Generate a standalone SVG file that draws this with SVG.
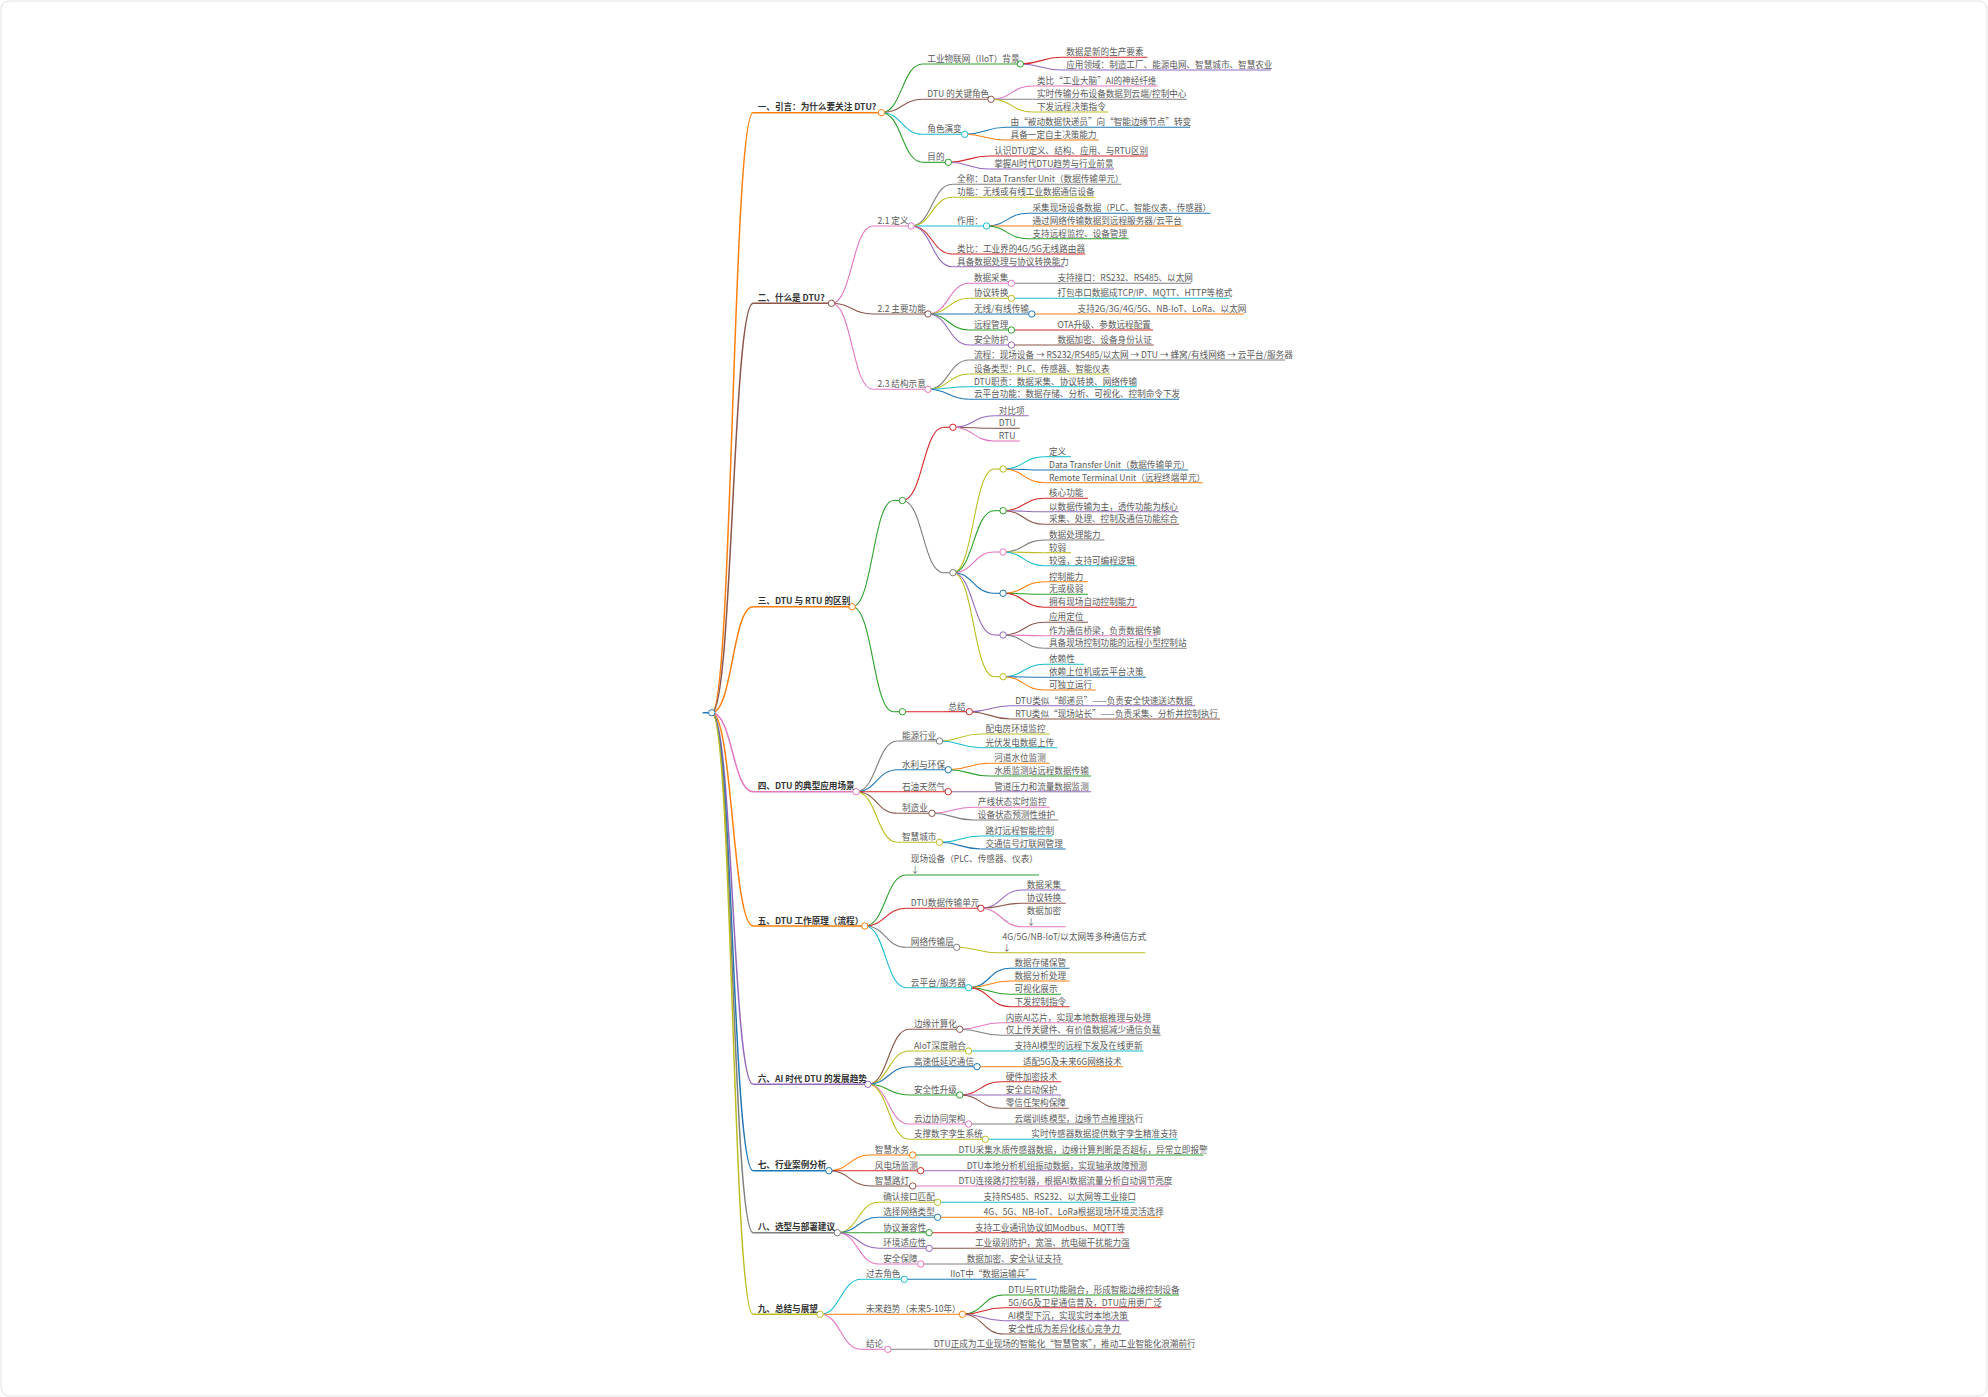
<svg xmlns="http://www.w3.org/2000/svg" width="1988" height="1397" viewBox="0 0 1988 1397">
<style>
.t{font-family:"Noto Sans CJK SC","Noto Sans",sans-serif;font-size:8.6px;fill:#5a5a5a}
.b{font-weight:bold;fill:#333}
path{fill:none;stroke-width:1.1}
.k1{stroke-width:1.5}
circle{fill:#fff;stroke-width:1}
.blue{stroke:#1f77b4}.orange{stroke:#ff7f0e}.green{stroke:#2ca02c}.red{stroke:#d62728}.purple{stroke:#9467bd}
.brown{stroke:#8c564b}.pink{stroke:#e377c2}.gray{stroke:#7f7f7f}.olive{stroke:#bcbd22}.cyan{stroke:#17becf}
</style>
<rect x="1" y="1" width="1986" height="1395" rx="8" fill="#fff" stroke="#e3e3e3"/>
<g id="connectors">
<path class="k1 orange" d="M711.8 712.7C732.5 712.7 732.5 112.7 753.1 112.7"/>
<path class="k1 brown" d="M711.8 712.7C732.5 712.7 732.5 303.3 753.1 303.3"/>
<path class="k1 orange" d="M711.8 712.7C732.5 712.7 732.5 606.7 753.1 606.7"/>
<path class="k1 pink" d="M711.8 712.7C732.5 712.7 732.5 791.7 753.1 791.7"/>
<path class="k1 orange" d="M711.8 712.7C732.5 712.7 732.5 926 753.1 926"/>
<path class="k1 purple" d="M711.8 712.7C732.5 712.7 732.5 1084.3 753.1 1084.3"/>
<path class="k1 blue" d="M711.8 712.7C732.5 712.7 732.5 1170.7 753.1 1170.7"/>
<path class="k1 gray" d="M711.8 712.7C732.5 712.7 732.5 1232.7 753.1 1232.7"/>
<path class="k1 olive" d="M711.8 712.7C732.5 712.7 732.5 1314.3 753.1 1314.3"/>
<path class="green" d="M881.4 112.7C902 112.7 902 64 922.7 64"/>
<path class="brown" d="M881.4 112.7C902 112.7 902 99.3 922.7 99.3"/>
<path class="cyan" d="M881.4 112.7C902 112.7 902 134.3 922.7 134.3"/>
<path class="green" d="M881.4 112.7C902 112.7 902 162.3 922.7 162.3"/>
<path class="red" d="M1020.3 64C1041 64 1041 57.3 1061.6 57.3"/>
<path class="purple" d="M1020.3 64C1041 64 1041 70 1061.6 70"/>
<path class="pink" d="M991.1 99.3C1011.8 99.3 1011.8 86 1032.5 86"/>
<path class="gray" d="M991.1 99.3H1032.5"/>
<path class="olive" d="M991.1 99.3C1011.8 99.3 1011.8 112 1032.5 112"/>
<path class="blue" d="M964.7 134.3C985.4 134.3 985.4 127.3 1006 127.3"/>
<path class="orange" d="M964.7 134.3C985.4 134.3 985.4 140 1006 140"/>
<path class="red" d="M948.3 162.3C969 162.3 969 156 989.6 156"/>
<path class="purple" d="M948.3 162.3C969 162.3 969 169 989.6 169"/>
<path class="pink" d="M831.5 303.3C852.2 303.3 852.2 226 872.9 226"/>
<path class="brown" d="M831.5 303.3C852.2 303.3 852.2 314 872.9 314"/>
<path class="pink" d="M831.5 303.3C852.2 303.3 852.2 389.3 872.9 389.3"/>
<path class="gray" d="M911.2 226C931.9 226 931.9 184.3 952.5 184.3"/>
<path class="olive" d="M911.2 226C931.9 226 931.9 197.3 952.5 197.3"/>
<path class="cyan" d="M911.2 226H952.5"/>
<path class="red" d="M911.2 226C931.9 226 931.9 254 952.5 254"/>
<path class="purple" d="M911.2 226C931.9 226 931.9 266.7 952.5 266.7"/>
<path class="blue" d="M986.5 226C1007.2 226 1007.2 213.3 1027.9 213.3"/>
<path class="orange" d="M986.5 226H1027.9"/>
<path class="green" d="M986.5 226C1007.2 226 1007.2 238.7 1027.9 238.7"/>
<path class="pink" d="M928 314C948.6 314 948.6 283.3 969.3 283.3"/>
<path class="olive" d="M928 314C948.6 314 948.6 298.3 969.3 298.3"/>
<path class="blue" d="M928 314H969.3"/>
<path class="green" d="M928 314C948.6 314 948.6 330 969.3 330"/>
<path class="purple" d="M928 314C948.6 314 948.6 345 969.3 345"/>
<path class="gray" d="M1011.4 283.3H1052.8"/>
<path class="cyan" d="M1011.4 298.3H1052.8"/>
<path class="orange" d="M1031.8 314H1073.1"/>
<path class="red" d="M1011.4 330H1052.8"/>
<path class="brown" d="M1011.4 345H1052.8"/>
<path class="gray" d="M928 389.3C948.6 389.3 948.6 360 969.3 360"/>
<path class="olive" d="M928 389.3C948.6 389.3 948.6 374 969.3 374"/>
<path class="cyan" d="M928 389.3C948.6 389.3 948.6 386.7 969.3 386.7"/>
<path class="blue" d="M928 389.3C948.6 389.3 948.6 399.3 969.3 399.3"/>
<path class="green" d="M852.2 606.7C872.9 606.7 872.9 500.5 893.5 500.5"/>
<path class="green" d="M852.2 606.7C872.9 606.7 872.9 711.7 893.5 711.7"/>
<path class="red" d="M902.4 500.5C923 500.5 923 427.3 943.7 427.3"/>
<path class="gray" d="M902.4 500.5C923 500.5 923 572.7 943.7 572.7"/>
<path class="purple" d="M952.9 427.3C973.6 427.3 973.6 415.7 994.2 415.7"/>
<path class="brown" d="M952.9 427.3C973.6 427.3 973.6 428.3 994.2 428.3"/>
<path class="pink" d="M952.9 427.3C973.6 427.3 973.6 441 994.2 441"/>
<path class="olive" d="M952.9 572.7C973.6 572.7 973.6 469 994.2 469"/>
<path class="green" d="M952.9 572.7C973.6 572.7 973.6 510.7 994.2 510.7"/>
<path class="pink" d="M952.9 572.7C973.6 572.7 973.6 552 994.2 552"/>
<path class="blue" d="M952.9 572.7C973.6 572.7 973.6 593.3 994.2 593.3"/>
<path class="purple" d="M952.9 572.7C973.6 572.7 973.6 635 994.2 635"/>
<path class="olive" d="M952.9 572.7C973.6 572.7 973.6 676.7 994.2 676.7"/>
<path class="cyan" d="M1003.1 469C1023.7 469 1023.7 456.7 1044.4 456.7"/>
<path class="blue" d="M1003.1 469C1023.7 469 1023.7 470 1044.4 470"/>
<path class="orange" d="M1003.1 469C1023.7 469 1023.7 482.7 1044.4 482.7"/>
<path class="red" d="M1003.1 510.7C1023.7 510.7 1023.7 498.3 1044.4 498.3"/>
<path class="purple" d="M1003.1 510.7C1023.7 510.7 1023.7 511.7 1044.4 511.7"/>
<path class="brown" d="M1003.1 510.7C1023.7 510.7 1023.7 524.3 1044.4 524.3"/>
<path class="gray" d="M1003.1 552C1023.7 552 1023.7 540 1044.4 540"/>
<path class="olive" d="M1003.1 552C1023.7 552 1023.7 552.7 1044.4 552.7"/>
<path class="cyan" d="M1003.1 552C1023.7 552 1023.7 565.7 1044.4 565.7"/>
<path class="orange" d="M1003.1 593.3C1023.7 593.3 1023.7 581.7 1044.4 581.7"/>
<path class="green" d="M1003.1 593.3C1023.7 593.3 1023.7 594.3 1044.4 594.3"/>
<path class="red" d="M1003.1 593.3C1023.7 593.3 1023.7 607.3 1044.4 607.3"/>
<path class="brown" d="M1003.1 635C1023.7 635 1023.7 622.3 1044.4 622.3"/>
<path class="pink" d="M1003.1 635C1023.7 635 1023.7 635.7 1044.4 635.7"/>
<path class="gray" d="M1003.1 635C1023.7 635 1023.7 648.3 1044.4 648.3"/>
<path class="cyan" d="M1003.1 676.7C1023.7 676.7 1023.7 664.3 1044.4 664.3"/>
<path class="blue" d="M1003.1 676.7C1023.7 676.7 1023.7 677.3 1044.4 677.3"/>
<path class="orange" d="M1003.1 676.7C1023.7 676.7 1023.7 690 1044.4 690"/>
<path class="red" d="M902.4 711.7H943.7"/>
<path class="purple" d="M969.3 711.7C990 711.7 990 705.7 1010.6 705.7"/>
<path class="brown" d="M969.3 711.7C990 711.7 990 719 1010.6 719"/>
<path class="gray" d="M856.1 791.7C876.8 791.7 876.8 741 897.4 741"/>
<path class="blue" d="M856.1 791.7C876.8 791.7 876.8 769.7 897.4 769.7"/>
<path class="red" d="M856.1 791.7H897.4"/>
<path class="brown" d="M856.1 791.7C876.8 791.7 876.8 813.3 897.4 813.3"/>
<path class="olive" d="M856.1 791.7C876.8 791.7 876.8 842.3 897.4 842.3"/>
<path class="olive" d="M939.5 741C960.1 741 960.1 734 980.8 734"/>
<path class="cyan" d="M939.5 741C960.1 741 960.1 747.7 980.8 747.7"/>
<path class="orange" d="M948.3 769.7C969 769.7 969 763.3 989.6 763.3"/>
<path class="green" d="M948.3 769.7C969 769.7 969 776 989.6 776"/>
<path class="purple" d="M948.3 791.7H989.6"/>
<path class="pink" d="M931.9 813.3C952.5 813.3 952.5 807.3 973.2 807.3"/>
<path class="gray" d="M931.9 813.3C952.5 813.3 952.5 820 973.2 820"/>
<path class="cyan" d="M939.5 842.3C960.1 842.3 960.1 836 980.8 836"/>
<path class="blue" d="M939.5 842.3C960.1 842.3 960.1 849 980.8 849"/>
<path class="green" d="M864.8 926C885.5 926 885.5 875 906.2 875"/>
<path class="red" d="M864.8 926C885.5 926 885.5 908.3 906.2 908.3"/>
<path class="gray" d="M864.8 926C885.5 926 885.5 947.3 906.2 947.3"/>
<path class="cyan" d="M864.8 926C885.5 926 885.5 987.7 906.2 987.7"/>
<path class="purple" d="M980.8 908.3C1001.4 908.3 1001.4 890 1022.1 890"/>
<path class="brown" d="M980.8 908.3C1001.4 908.3 1001.4 903.3 1022.1 903.3"/>
<path class="pink" d="M980.8 908.3C1001.4 908.3 1001.4 926.7 1022.1 926.7"/>
<path class="olive" d="M956.7 947.3C977.3 947.3 977.3 952.7 998 952.7"/>
<path class="blue" d="M968.6 987.7C989.3 987.7 989.3 968.3 1010 968.3"/>
<path class="orange" d="M968.6 987.7C989.3 987.7 989.3 981 1010 981"/>
<path class="green" d="M968.6 987.7C989.3 987.7 989.3 994.3 1010 994.3"/>
<path class="red" d="M968.6 987.7C989.3 987.7 989.3 1006.7 1010 1006.7"/>
<path class="brown" d="M867.9 1084.3C888.6 1084.3 888.6 1029.3 909.3 1029.3"/>
<path class="olive" d="M867.9 1084.3C888.6 1084.3 888.6 1051 909.3 1051"/>
<path class="blue" d="M867.9 1084.3C888.6 1084.3 888.6 1066.7 909.3 1066.7"/>
<path class="green" d="M867.9 1084.3C888.6 1084.3 888.6 1095 909.3 1095"/>
<path class="pink" d="M867.9 1084.3C888.6 1084.3 888.6 1124 909.3 1124"/>
<path class="olive" d="M867.9 1084.3C888.6 1084.3 888.6 1139.3 909.3 1139.3"/>
<path class="pink" d="M959.8 1029.3C980.4 1029.3 980.4 1022.7 1001.1 1022.7"/>
<path class="gray" d="M959.8 1029.3C980.4 1029.3 980.4 1035.3 1001.1 1035.3"/>
<path class="cyan" d="M968.6 1051H1010"/>
<path class="orange" d="M977 1066.7H1018.3"/>
<path class="red" d="M959.8 1095C980.4 1095 980.4 1081.7 1001.1 1081.7"/>
<path class="purple" d="M959.8 1095H1001.1"/>
<path class="brown" d="M959.8 1095C980.4 1095 980.4 1108.3 1001.1 1108.3"/>
<path class="gray" d="M968.6 1124H1010"/>
<path class="cyan" d="M985.4 1139.3H1026.7"/>
<path class="orange" d="M828.9 1170.7C849.6 1170.7 849.6 1155 870.2 1155"/>
<path class="red" d="M828.9 1170.7H870.2"/>
<path class="brown" d="M828.9 1170.7C849.6 1170.7 849.6 1186 870.2 1186"/>
<path class="green" d="M912.7 1155H954"/>
<path class="purple" d="M920.7 1170.7H962.1"/>
<path class="pink" d="M912.7 1186H954"/>
<path class="olive" d="M837.3 1232.7C858 1232.7 858 1202.3 878.6 1202.3"/>
<path class="blue" d="M837.3 1232.7C858 1232.7 858 1217.3 878.6 1217.3"/>
<path class="green" d="M837.3 1232.7H878.6"/>
<path class="purple" d="M837.3 1232.7C858 1232.7 858 1248.3 878.6 1248.3"/>
<path class="pink" d="M837.3 1232.7C858 1232.7 858 1264 878.6 1264"/>
<path class="cyan" d="M937.6 1202.3H979"/>
<path class="orange" d="M937.6 1217.3H979"/>
<path class="red" d="M929.1 1232.7H970.5"/>
<path class="brown" d="M929.1 1248.3H970.5"/>
<path class="gray" d="M920.7 1264H962.1"/>
<path class="cyan" d="M820.1 1314.3C840.7 1314.3 840.7 1279.3 861.4 1279.3"/>
<path class="orange" d="M820.1 1314.3H861.4"/>
<path class="pink" d="M820.1 1314.3C840.7 1314.3 840.7 1349.3 861.4 1349.3"/>
<path class="blue" d="M904.3 1279.3H945.7"/>
<path class="green" d="M962.4 1314.3C983.1 1314.3 983.1 1295 1003.7 1295"/>
<path class="red" d="M962.4 1314.3C983.1 1314.3 983.1 1307.7 1003.7 1307.7"/>
<path class="purple" d="M962.4 1314.3C983.1 1314.3 983.1 1320.7 1003.7 1320.7"/>
<path class="brown" d="M962.4 1314.3C983.1 1314.3 983.1 1334 1003.7 1334"/>
<path class="gray" d="M887.8 1349.3H929.1"/>
</g>

<g id="root"><path class="k1 blue" d="M702.6 712.7H711.8"/><circle class="blue" cx="711.8" cy="712.7" r="3.2"/></g>

<g id="s1"><path class="k1 orange" d="M753.1 112.7H881.4"/><circle class="orange" cx="881.4" cy="112.7" r="3.2"/><text class="t b" x="757.7" y="110.3">一、引言：为什么要关注 DTU?</text></g>
<g id="s1a"><path class="green" d="M922.7 64H1020.3"/><circle class="green" cx="1020.3" cy="64" r="3.2"/><text class="t" x="927.3" y="61.8">工业物联网（IIoT）背景</text></g>
<g id="s1a1"><path class="red" d="M1061.6 57.3H1147.3"/><text class="t" x="1066.2" y="55.3">数据是新的生产要素</text></g>
<g id="s1a2"><path class="purple" d="M1061.6 70H1270.9"/><text class="t" x="1066.2" y="68">应用领域：制造工厂、能源电网、智慧城市、智慧农业</text></g>
<g id="s1b"><path class="brown" d="M922.7 99.3H991.1"/><circle class="brown" cx="991.1" cy="99.3" r="3.2"/><text class="t" x="927.3" y="97.1">DTU 的关键角色</text></g>
<g id="s1b1"><path class="pink" d="M1032.5 86H1157.6"/><text class="t" x="1037" y="84">类比“工业大脑”AI的神经纤维</text></g>
<g id="s1b2"><path class="gray" d="M1032.5 99.3H1186.7"/><text class="t" x="1037" y="97.3">实时传输分布设备数据到云端/控制中心</text></g>
<g id="s1b3"><path class="olive" d="M1032.5 112H1108.2"/><text class="t" x="1037" y="110">下发远程决策指令</text></g>
<g id="s1c"><path class="cyan" d="M922.7 134.3H964.7"/><circle class="cyan" cx="964.7" cy="134.3" r="3.2"/><text class="t" x="927.3" y="132.1">角色演变</text></g>
<g id="s1c1"><path class="blue" d="M1006 127.3H1190.2"/><text class="t" x="1010.6" y="125.3">由“被动数据快递员”向“智能边缘节点”转变</text></g>
<g id="s1c2"><path class="orange" d="M1006 140H1098.7"/><text class="t" x="1010.6" y="138">具备一定自主决策能力</text></g>
<g id="s1d"><path class="green" d="M922.7 162.3H948.3"/><circle class="green" cx="948.3" cy="162.3" r="3.2"/><text class="t" x="927.3" y="160.1">目的</text></g>
<g id="s1d1"><path class="red" d="M989.6 156H1148.1"/><text class="t" x="994.2" y="154">认识DTU定义、结构、应用、与RTU区别</text></g>
<g id="s1d2"><path class="purple" d="M989.6 169H1114"/><text class="t" x="994.2" y="167">掌握AI时代DTU趋势与行业前景</text></g>

<g id="s2"><path class="k1 brown" d="M753.1 303.3H831.5"/><circle class="brown" cx="831.5" cy="303.3" r="3.2"/><text class="t b" x="757.7" y="300.9">二、什么是 DTU?</text></g>
<g id="s2a"><path class="pink" d="M872.9 226H911.2"/><circle class="pink" cx="911.2" cy="226" r="3.2"/><text class="t" x="877.5" y="223.8">2.1 定义</text></g>
<g id="s2a1"><path class="gray" d="M952.5 184.3H1121.3"/><text class="t" x="957.1" y="182.3">全称：Data Transfer Unit（数据传输单元）</text></g>
<g id="s2a2"><path class="olive" d="M952.5 197.3H1094.9"/><text class="t" x="957.1" y="195.3">功能：无线或有线工业数据通信设备</text></g>
<g id="s2a3"><path class="cyan" d="M952.5 226H986.5"/><circle class="cyan" cx="986.5" cy="226" r="3.2"/><text class="t" x="957.1" y="223.8">作用：</text></g>
<g id="s2a3a"><path class="blue" d="M1027.9 213.3H1210.4"/><text class="t" x="1032.5" y="211.3">采集现场设备数据（PLC、智能仪表、传感器）</text></g>
<g id="s2a3b"><path class="orange" d="M1027.9 226H1182.5"/><text class="t" x="1032.5" y="224">通过网络传输数据到远程服务器/云平台</text></g>
<g id="s2a3c"><path class="green" d="M1027.9 238.7H1128.9"/><text class="t" x="1032.5" y="236.7">支持远程监控、设备管理</text></g>
<g id="s2a4"><path class="red" d="M952.5 254H1085.3"/><text class="t" x="957.1" y="252">类比：工业界的4G/5G无线路由器</text></g>
<g id="s2a5"><path class="purple" d="M952.5 266.7H1064.2"/><text class="t" x="957.1" y="264.7">具备数据处理与协议转换能力</text></g>
<g id="s2b"><path class="brown" d="M872.9 314H928"/><circle class="brown" cx="928" cy="314" r="3.2"/><text class="t" x="877.5" y="311.8">2.2 主要功能</text></g>
<g id="s2b1"><path class="pink" d="M969.3 283.3H1011.4"/><circle class="pink" cx="1011.4" cy="283.3" r="3.2"/><text class="t" x="973.9" y="281.1">数据采集</text></g>
<g id="s2b1a"><path class="gray" d="M1052.8 283.3H1191.3"/><text class="t" x="1057.4" y="281.3">支持接口：RS232、RS485、以太网</text></g>
<g id="s2b2"><path class="olive" d="M969.3 298.3H1011.4"/><circle class="olive" cx="1011.4" cy="298.3" r="3.2"/><text class="t" x="973.9" y="296.1">协议转换</text></g>
<g id="s2b2a"><path class="cyan" d="M1052.8 298.3H1229.6"/><text class="t" x="1057.4" y="296.3">打包串口数据成TCP/IP、MQTT、HTTP等格式</text></g>
<g id="s2b3"><path class="blue" d="M969.3 314H1031.8"/><circle class="blue" cx="1031.8" cy="314" r="3.2"/><text class="t" x="973.9" y="311.8">无线/有线传输</text></g>
<g id="s2b3a"><path class="orange" d="M1073.1 314H1243.7"/><text class="t" x="1077.6" y="312">支持2G/3G/4G/5G、NB-IoT、LoRa、以太网</text></g>
<g id="s2b4"><path class="green" d="M969.3 330H1011.4"/><circle class="green" cx="1011.4" cy="330" r="3.2"/><text class="t" x="973.9" y="327.8">远程管理</text></g>
<g id="s2b4a"><path class="red" d="M1052.8 330H1153"/><text class="t" x="1057.4" y="328">OTA升级、参数远程配置</text></g>
<g id="s2b5"><path class="purple" d="M969.3 345H1011.4"/><circle class="purple" cx="1011.4" cy="345" r="3.2"/><text class="t" x="973.9" y="342.8">安全防护</text></g>
<g id="s2b5a"><path class="brown" d="M1052.8 345H1153.8"/><text class="t" x="1057.4" y="343">数据加密、设备身份认证</text></g>
<g id="s2c"><path class="pink" d="M872.9 389.3H928"/><circle class="pink" cx="928" cy="389.3" r="3.2"/><text class="t" x="877.5" y="387.1">2.3 结构示意</text></g>
<g id="s2c1"><path class="gray" d="M969.3 360H1285"/><text class="t" x="973.9" y="358">流程：现场设备 → RS232/RS485/以太网 → DTU → 蜂窝/有线网络 → 云平台/服务器</text></g>
<g id="s2c2"><path class="olive" d="M969.3 374H1109.8"/><text class="t" x="973.9" y="372">设备类型：PLC、传感器、智能仪表</text></g>
<g id="s2c3"><path class="cyan" d="M969.3 386.7H1136.6"/><text class="t" x="973.9" y="384.7">DTU职责：数据采集、协议转换、网络传输</text></g>
<g id="s2c4"><path class="blue" d="M969.3 399.3H1179"/><text class="t" x="973.9" y="397.3">云平台功能：数据存储、分析、可视化、控制命令下发</text></g>

<g id="s3"><path class="k1 orange" d="M753.1 606.7H852.2"/><circle class="orange" cx="852.2" cy="606.7" r="3.2"/><text class="t b" x="757.7" y="604.3">三、DTU 与 RTU 的区别</text></g>
<g id="s3t"><path class="green" d="M893.5 500.5H902.4"/><circle class="green" cx="902.4" cy="500.5" r="3.2"/></g>
<g id="s3h"><path class="red" d="M943.7 427.3H952.9"/><circle class="red" cx="952.9" cy="427.3" r="3.2"/></g>
<g id="s3h1"><path class="purple" d="M994.2 415.7H1028.7"/><text class="t" x="998.8" y="413.7">对比项</text></g>
<g id="s3h2"><path class="brown" d="M994.2 428.3H1019.8"/><text class="t" x="998.8" y="426.3">DTU</text></g>
<g id="s3h3"><path class="pink" d="M994.2 441H1019.8"/><text class="t" x="998.8" y="439">RTU</text></g>
<g id="s3r"><path class="gray" d="M943.7 572.7H952.9"/><circle class="gray" cx="952.9" cy="572.7" r="3.2"/></g>
<g id="s3r1"><path class="olive" d="M994.2 469H1003.1"/><circle class="olive" cx="1003.1" cy="469" r="3.2"/></g>
<g id="s3r1a"><path class="cyan" d="M1044.4 456.7H1070.8"/><text class="t" x="1049" y="454.7">定义</text></g>
<g id="s3r1b"><path class="blue" d="M1044.4 470H1188.2"/><text class="t" x="1049" y="468">Data Transfer Unit（数据传输单元）</text></g>
<g id="s3r1c"><path class="orange" d="M1044.4 482.7H1202.8"/><text class="t" x="1049" y="480.7">Remote Terminal Unit（远程终端单元）</text></g>
<g id="s3r2"><path class="green" d="M994.2 510.7H1003.1"/><circle class="green" cx="1003.1" cy="510.7" r="3.2"/></g>
<g id="s3r2a"><path class="red" d="M1044.4 498.3H1088"/><text class="t" x="1049" y="496.3">核心功能</text></g>
<g id="s3r2b"><path class="purple" d="M1044.4 511.7H1179"/><text class="t" x="1049" y="509.7">以数据传输为主，透传功能为核心</text></g>
<g id="s3r2c"><path class="brown" d="M1044.4 524.3H1179"/><text class="t" x="1049" y="522.3">采集、处理、控制及通信功能综合</text></g>
<g id="s3r3"><path class="pink" d="M994.2 552H1003.1"/><circle class="pink" cx="1003.1" cy="552" r="3.2"/></g>
<g id="s3r3a"><path class="gray" d="M1044.4 540H1104.4"/><text class="t" x="1049" y="538">数据处理能力</text></g>
<g id="s3r3b"><path class="olive" d="M1044.4 552.7H1071.1"/><text class="t" x="1049" y="550.7">较弱</text></g>
<g id="s3r3c"><path class="cyan" d="M1044.4 565.7H1136.9"/><text class="t" x="1049" y="563.7">较强，支持可编程逻辑</text></g>
<g id="s3r4"><path class="blue" d="M994.2 593.3H1003.1"/><circle class="blue" cx="1003.1" cy="593.3" r="3.2"/></g>
<g id="s3r4a"><path class="orange" d="M1044.4 581.7H1088"/><text class="t" x="1049" y="579.7">控制能力</text></g>
<g id="s3r4b"><path class="green" d="M1044.4 594.3H1088"/><text class="t" x="1049" y="592.3">无或极弱</text></g>
<g id="s3r4c"><path class="red" d="M1044.4 607.3H1136.9"/><text class="t" x="1049" y="605.3">拥有现场自动控制能力</text></g>
<g id="s3r5"><path class="purple" d="M994.2 635H1003.1"/><circle class="purple" cx="1003.1" cy="635" r="3.2"/></g>
<g id="s3r5a"><path class="brown" d="M1044.4 622.3H1088"/><text class="t" x="1049" y="620.3">应用定位</text></g>
<g id="s3r5b"><path class="pink" d="M1044.4 635.7H1156.9"/><text class="t" x="1049" y="633.7">作为通信桥梁，负责数据传输</text></g>
<g id="s3r5c"><path class="gray" d="M1044.4 648.3H1186.7"/><text class="t" x="1049" y="646.3">具备现场控制功能的远程小型控制站</text></g>
<g id="s3r6"><path class="olive" d="M994.2 676.7H1003.1"/><circle class="olive" cx="1003.1" cy="676.7" r="3.2"/></g>
<g id="s3r6a"><path class="cyan" d="M1044.4 664.3H1084.1"/><text class="t" x="1049" y="662.3">依赖性</text></g>
<g id="s3r6b"><path class="blue" d="M1044.4 677.3H1146.1"/><text class="t" x="1049" y="675.3">依赖上位机或云平台决策</text></g>
<g id="s3r6c"><path class="orange" d="M1044.4 690H1095.6"/><text class="t" x="1049" y="688">可独立运行</text></g>
<g id="s3s"><path class="green" d="M893.5 711.7H902.4"/><circle class="green" cx="902.4" cy="711.7" r="3.2"/></g>
<g id="s3s1"><path class="red" d="M943.7 711.7H969.3"/><circle class="red" cx="969.3" cy="711.7" r="3.2"/><text class="t" x="948.3" y="709.5">总结</text></g>
<g id="s3s1a"><path class="purple" d="M1010.6 705.7H1195.1"/><text class="t" x="1015.2" y="703.7">DTU类似“邮递员”——负责安全快速送达数据</text></g>
<g id="s3s1b"><path class="brown" d="M1010.6 719H1220"/><text class="t" x="1015.2" y="717">RTU类似“现场站长”——负责采集、分析并控制执行</text></g>

<g id="s4"><path class="k1 pink" d="M753.1 791.7H856.1"/><circle class="pink" cx="856.1" cy="791.7" r="3.2"/><text class="t b" x="757.7" y="789.3">四、DTU 的典型应用场景</text></g>
<g id="s4a"><path class="gray" d="M897.4 741H939.5"/><circle class="gray" cx="939.5" cy="741" r="3.2"/><text class="t" x="902" y="738.8">能源行业</text></g>
<g id="s4a1"><path class="olive" d="M980.8 734H1049.7"/><text class="t" x="985.4" y="732">配电房环境监控</text></g>
<g id="s4a2"><path class="cyan" d="M980.8 747.7H1057.4"/><text class="t" x="985.4" y="745.7">光伏发电数据上传</text></g>
<g id="s4b"><path class="blue" d="M897.4 769.7H948.3"/><circle class="blue" cx="948.3" cy="769.7" r="3.2"/><text class="t" x="902" y="767.5">水利与环保</text></g>
<g id="s4b1"><path class="orange" d="M989.6 763.3H1049.7"/><text class="t" x="994.2" y="761.3">河道水位监测</text></g>
<g id="s4b2"><path class="green" d="M989.6 776H1091"/><text class="t" x="994.2" y="774">水质监测站远程数据传输</text></g>
<g id="s4c"><path class="red" d="M897.4 791.7H948.3"/><circle class="red" cx="948.3" cy="791.7" r="3.2"/><text class="t" x="902" y="789.5">石油天然气</text></g>
<g id="s4c1"><path class="purple" d="M989.6 791.7H1091"/><text class="t" x="994.2" y="789.7">管道压力和流量数据监测</text></g>
<g id="s4d"><path class="brown" d="M897.4 813.3H931.9"/><circle class="brown" cx="931.9" cy="813.3" r="3.2"/><text class="t" x="902" y="811.1">制造业</text></g>
<g id="s4d1"><path class="pink" d="M973.2 807.3H1049.7"/><text class="t" x="977.8" y="805.3">产线状态实时监控</text></g>
<g id="s4d2"><path class="gray" d="M973.2 820H1058.2"/><text class="t" x="977.8" y="818">设备状态预测性维护</text></g>
<g id="s4e"><path class="olive" d="M897.4 842.3H939.5"/><circle class="olive" cx="939.5" cy="842.3" r="3.2"/><text class="t" x="902" y="840.1">智慧城市</text></g>
<g id="s4e1"><path class="cyan" d="M980.8 836H1052.8"/><text class="t" x="985.4" y="834">路灯远程智能控制</text></g>
<g id="s4e2"><path class="blue" d="M980.8 849H1065.7"/><text class="t" x="985.4" y="847">交通信号灯联网管理</text></g>

<g id="s5"><path class="k1 orange" d="M753.1 926H864.8"/><circle class="orange" cx="864.8" cy="926" r="3.2"/><text class="t b" x="757.7" y="923.6">五、DTU 工作原理（流程）</text></g>
<g id="s5a"><path class="green" d="M906.2 875H1039"/><text class="t" x="910.8" y="862">现场设备（PLC、传感器、仪表）</text><text class="t" x="910.8" y="873">↓</text></g>
<g id="s5b"><path class="red" d="M906.2 908.3H980.8"/><circle class="red" cx="980.8" cy="908.3" r="3.2"/><text class="t" x="910.8" y="906.1">DTU数据传输单元</text></g>
<g id="s5b1"><path class="purple" d="M1022.1 890H1065.7"/><text class="t" x="1026.7" y="888">数据采集</text></g>
<g id="s5b2"><path class="brown" d="M1022.1 903.3H1065.7"/><text class="t" x="1026.7" y="901.3">协议转换</text></g>
<g id="s5b3"><path class="pink" d="M1022.1 926.7H1065.7"/><text class="t" x="1026.7" y="913.7">数据加密</text><text class="t" x="1026.7" y="924.7">↓</text></g>
<g id="s5c"><path class="gray" d="M906.2 947.3H956.7"/><circle class="gray" cx="956.7" cy="947.3" r="3.2"/><text class="t" x="910.8" y="945.1">网络传输层</text></g>
<g id="s5c1"><path class="olive" d="M998 952.7H1145.4"/><text class="t" x="1002.5" y="939.7">4G/5G/NB-IoT/以太网等多种通信方式</text><text class="t" x="1002.5" y="950.7">↓</text></g>
<g id="s5d"><path class="cyan" d="M906.2 987.7H968.6"/><circle class="cyan" cx="968.6" cy="987.7" r="3.2"/><text class="t" x="910.8" y="985.5">云平台/服务器</text></g>
<g id="s5d1"><path class="blue" d="M1010 968.3H1069.6"/><text class="t" x="1014.5" y="966.3">数据存储保管</text></g>
<g id="s5d2"><path class="orange" d="M1010 981H1069.6"/><text class="t" x="1014.5" y="979">数据分析处理</text></g>
<g id="s5d3"><path class="green" d="M1010 994.3H1061.2"/><text class="t" x="1014.5" y="992.3">可视化展示</text></g>
<g id="s5d4"><path class="red" d="M1010 1006.7H1069.6"/><text class="t" x="1014.5" y="1004.7">下发控制指令</text></g>

<g id="s6"><path class="k1 purple" d="M753.1 1084.3H867.9"/><circle class="purple" cx="867.9" cy="1084.3" r="3.2"/><text class="t b" x="757.7" y="1081.9">六、AI 时代 DTU 的发展趋势</text></g>
<g id="s6a"><path class="brown" d="M909.3 1029.3H959.8"/><circle class="brown" cx="959.8" cy="1029.3" r="3.2"/><text class="t" x="913.9" y="1027.1">边缘计算化</text></g>
<g id="s6a1"><path class="pink" d="M1001.1 1022.7H1151.2"/><text class="t" x="1005.7" y="1020.7">内嵌AI芯片，实现本地数据推理与处理</text></g>
<g id="s6a2"><path class="gray" d="M1001.1 1035.3H1160.7"/><text class="t" x="1005.7" y="1033.3">仅上传关键件、有价值数据减少通信负载</text></g>
<g id="s6b"><path class="olive" d="M909.3 1051H968.6"/><circle class="olive" cx="968.6" cy="1051" r="3.2"/><text class="t" x="913.9" y="1048.8">AIoT深度融合</text></g>
<g id="s6b1"><path class="cyan" d="M1010 1051H1143.5"/><text class="t" x="1014.5" y="1049">支持AI模型的远程下发及在线更新</text></g>
<g id="s6c"><path class="blue" d="M909.3 1066.7H977"/><circle class="blue" cx="977" cy="1066.7" r="3.2"/><text class="t" x="913.9" y="1064.5">高速低延迟通信</text></g>
<g id="s6c1"><path class="orange" d="M1018.3 1066.7H1123.1"/><text class="t" x="1022.9" y="1064.7">适配5G及未来6G网络技术</text></g>
<g id="s6d"><path class="green" d="M909.3 1095H959.8"/><circle class="green" cx="959.8" cy="1095" r="3.2"/><text class="t" x="913.9" y="1092.8">安全性升级</text></g>
<g id="s6d1"><path class="red" d="M1001.1 1081.7H1061.2"/><text class="t" x="1005.7" y="1079.7">硬件加密技术</text></g>
<g id="s6d2"><path class="purple" d="M1001.1 1095H1061.2"/><text class="t" x="1005.7" y="1093">安全启动保护</text></g>
<g id="s6d3"><path class="brown" d="M1001.1 1108.3H1068.8"/><text class="t" x="1005.7" y="1106.3">零信任架构保障</text></g>
<g id="s6e"><path class="pink" d="M909.3 1124H968.6"/><circle class="pink" cx="968.6" cy="1124" r="3.2"/><text class="t" x="913.9" y="1121.8">云边协同架构</text></g>
<g id="s6e1"><path class="gray" d="M1010 1124H1134.6"/><text class="t" x="1014.5" y="1122">云端训练模型，边缘节点推理执行</text></g>
<g id="s6f"><path class="olive" d="M909.3 1139.3H985.4"/><circle class="olive" cx="985.4" cy="1139.3" r="3.2"/><text class="t" x="913.9" y="1137.1">支撑数字孪生系统</text></g>
<g id="s6f1"><path class="cyan" d="M1026.7 1139.3H1177.9"/><text class="t" x="1031.3" y="1137.3">实时传感器数据提供数字孪生精准支持</text></g>

<g id="s7"><path class="k1 blue" d="M753.1 1170.7H828.9"/><circle class="blue" cx="828.9" cy="1170.7" r="3.2"/><text class="t b" x="757.7" y="1168.3">七、行业案例分析</text></g>
<g id="s7a"><path class="orange" d="M870.2 1155H912.7"/><circle class="orange" cx="912.7" cy="1155" r="3.2"/><text class="t" x="874.8" y="1152.8">智慧水务</text></g>
<g id="s7a1"><path class="green" d="M954 1155H1203.5"/><text class="t" x="958.6" y="1153">DTU采集水质传感器数据，边缘计算判断是否超标，异常立即报警</text></g>
<g id="s7b"><path class="red" d="M870.2 1170.7H920.7"/><circle class="red" cx="920.7" cy="1170.7" r="3.2"/><text class="t" x="874.8" y="1168.5">风电场监测</text></g>
<g id="s7b1"><path class="purple" d="M962.1 1170.7H1146.1"/><text class="t" x="966.7" y="1168.7">DTU本地分析机组振动数据，实现轴承故障预测</text></g>
<g id="s7c"><path class="brown" d="M870.2 1186H912.7"/><circle class="brown" cx="912.7" cy="1186" r="3.2"/><text class="t" x="874.8" y="1183.8">智慧路灯</text></g>
<g id="s7c1"><path class="pink" d="M954 1186H1169.1"/><text class="t" x="958.6" y="1184">DTU连接路灯控制器，根据AI数据流量分析自动调节亮度</text></g>

<g id="s8"><path class="k1 gray" d="M753.1 1232.7H837.3"/><circle class="gray" cx="837.3" cy="1232.7" r="3.2"/><text class="t b" x="757.7" y="1230.3">八、选型与部署建议</text></g>
<g id="s8a"><path class="olive" d="M878.6 1202.3H937.6"/><circle class="olive" cx="937.6" cy="1202.3" r="3.2"/><text class="t" x="883.2" y="1200.1">确认接口匹配</text></g>
<g id="s8a1"><path class="cyan" d="M979 1202.3H1134.6"/><text class="t" x="983.5" y="1200.3">支持RS485、RS232、以太网等工业接口</text></g>
<g id="s8b"><path class="blue" d="M878.6 1217.3H937.6"/><circle class="blue" cx="937.6" cy="1217.3" r="3.2"/><text class="t" x="883.2" y="1215.1">选择网络类型</text></g>
<g id="s8b1"><path class="orange" d="M979 1217.3H1160.7"/><text class="t" x="983.5" y="1215.3">4G、5G、NB-IoT、LoRa根据现场环境灵活选择</text></g>
<g id="s8c"><path class="green" d="M878.6 1232.7H929.1"/><circle class="green" cx="929.1" cy="1232.7" r="3.2"/><text class="t" x="883.2" y="1230.5">协议兼容性</text></g>
<g id="s8c1"><path class="red" d="M970.5 1232.7H1124.3"/><text class="t" x="975" y="1230.7">支持工业通讯协议如Modbus、MQTT等</text></g>
<g id="s8d"><path class="purple" d="M878.6 1248.3H929.1"/><circle class="purple" cx="929.1" cy="1248.3" r="3.2"/><text class="t" x="883.2" y="1246.1">环境适应性</text></g>
<g id="s8d1"><path class="brown" d="M970.5 1248.3H1130"/><text class="t" x="975" y="1246.3">工业级别防护，宽温、抗电磁干扰能力强</text></g>
<g id="s8e"><path class="pink" d="M878.6 1264H920.7"/><circle class="pink" cx="920.7" cy="1264" r="3.2"/><text class="t" x="883.2" y="1261.8">安全保障</text></g>
<g id="s8e1"><path class="gray" d="M962.1 1264H1063.1"/><text class="t" x="966.7" y="1262">数据加密、安全认证支持</text></g>

<g id="s9"><path class="k1 olive" d="M753.1 1314.3H820.1"/><circle class="olive" cx="820.1" cy="1314.3" r="3.2"/><text class="t b" x="757.7" y="1311.9">九、总结与展望</text></g>
<g id="s9a"><path class="cyan" d="M861.4 1279.3H904.3"/><circle class="cyan" cx="904.3" cy="1279.3" r="3.2"/><text class="t" x="866" y="1277.1">过去角色</text></g>
<g id="s9a1"><path class="blue" d="M945.7 1279.3H1036.4"/><text class="t" x="950.3" y="1277.3">IIoT中“数据运输兵”</text></g>
<g id="s9b"><path class="orange" d="M861.4 1314.3H962.4"/><circle class="orange" cx="962.4" cy="1314.3" r="3.2"/><text class="t" x="866" y="1312.1">未来趋势（未来5-10年）</text></g>
<g id="s9b1"><path class="green" d="M1003.7 1295H1179"/><text class="t" x="1008.3" y="1293">DTU与RTU功能融合，形成智能边缘控制设备</text></g>
<g id="s9b2"><path class="red" d="M1003.7 1307.7H1160.7"/><text class="t" x="1008.3" y="1305.7">5G/6G及卫星通信普及，DTU应用更广泛</text></g>
<g id="s9b3"><path class="purple" d="M1003.7 1320.7H1128.9"/><text class="t" x="1008.3" y="1318.7">AI模型下沉，实现实时本地决策</text></g>
<g id="s9b4"><path class="brown" d="M1003.7 1334H1121.3"/><text class="t" x="1008.3" y="1332">安全性成为差异化核心竞争力</text></g>
<g id="s9c"><path class="pink" d="M861.4 1349.3H887.8"/><circle class="pink" cx="887.8" cy="1349.3" r="3.2"/><text class="t" x="866" y="1347.1">结论</text></g>
<g id="s9c1"><path class="gray" d="M929.1 1349.3H1191.3"/><text class="t" x="933.7" y="1347.3">DTU正成为工业现场的智能化“智慧管家”，推动工业智能化浪潮前行</text></g>
</svg>
